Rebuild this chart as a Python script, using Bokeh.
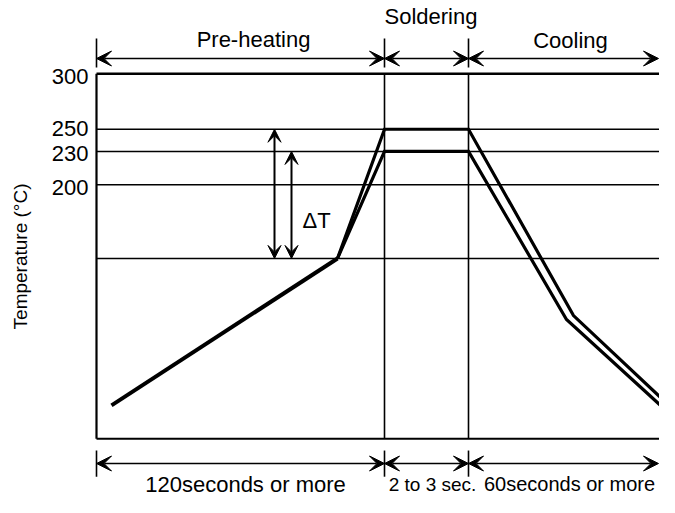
from bokeh.plotting import figure
from bokeh.models import Range1d, Arrow, VeeHead, ColumnDataSource
from bokeh.core.properties import value
from bokeh.embed import file_html
from bokeh.resources import INLINE

# ---------------- data (schematic reflow profile) ----------------
# time is in arbitrary schematic units, temperature in °C
temp_ticks = [300, 250, 230, 200]
tick_labels = ["300", "250", "230", "200"]
preheat_temp = 133.5          # unlabeled pre-heating level
floor_temp = -29              # bottom of the diagram box

preheat_t = [7.5, 120.5]
preheat_T = [1, 133.5]
upper_t = [120.5, 144, 186, 238.5, 289]
upper_T = [133.5, 250, 250, 82, -3.6]
lower_t = [120.5, 144, 186, 235, 287]
lower_T = [133.5, 230, 230, 78.5, -7.2]

stage_bounds = [0, 144, 186, 281]
stage_names = ["Pre-heating", "Soldering", "Cooling"]
duration_labels = ["120seconds or more", "2 to 3 sec.", "60seconds or more"]
delta_label = "ΔT"
y_title = "Temperature (°C)"

# ---------------- layout ----------------
FONT = value("Liberation Sans")
x_right = 300
top_arrow_T, top_tick = 313.8, (305.7, 331.8)
bot_arrow_T, bot_tick = -51.4, (-39.7, -63.3)
stage_label_t = [78.5, 167.25, 237]
stage_label_T = [330.5, 351.7, 329.8]
dur_label_t = [74.5, 168, 236.5]
dur_label_T = [-70.6, -70.3, -70.3]
dur_label_size = ["22px", "19px", "20px"]
dT_arrow_t = [89, 97.5]

p = figure(width=659, height=497, output_backend="svg", toolbar_location=None,
           x_range=Range1d(-48, 281.5), y_range=Range1d(-82.05, 366.10),
           x_axis_type=None, y_axis_type=None, min_border=0,
           outline_line_color=None, background_fill_color="white")

# horizontal level lines
for T in temp_ticks[1:] + [preheat_temp]:
    p.line([stage_bounds[0], x_right], [T, T], line_color="black", line_width=1.6)
# box: top, bottom, left
p.line([stage_bounds[0], x_right], [temp_ticks[0]] * 2, line_color="black", line_width=2.6)
p.line([stage_bounds[0], x_right], [floor_temp] * 2, line_color="black", line_width=2)
p.line([stage_bounds[0]] * 2, [floor_temp, temp_ticks[0]], line_color="black", line_width=2.2)
# soldering window verticals
for t in stage_bounds[1:3]:
    p.line([t, t], [floor_temp, temp_ticks[0]], line_color="black", line_width=1.6)

# profile
p.line(preheat_t, preheat_T, line_color="black", line_width=4, line_join="miter")
p.line(upper_t, upper_T, line_color="black", line_width=3.2, line_join="miter")
p.line(lower_t, lower_T, line_color="black", line_width=3.2, line_join="miter")

# y tick labels
p.text(x=[stage_bounds[0]] * 4, y=temp_ticks, text=tick_labels, x_offset=-8,
       y_offset=[3, -1, 2, 3], text_align="right", text_baseline="middle",
       text_font=FONT, text_font_size="22px", text_color="black")

# y title
p.text(x=[-38], y=[135.3], text=[y_title], angle=1.5708, text_align="center",
       text_baseline="middle", text_font=FONT, text_font_size="19px", text_color="black")

# stage arrows (top) and duration arrows (bottom)
def arrows(yv):
    src = ColumnDataSource(dict(x0=stage_bounds[:-1], x1=stage_bounds[1:],
                                y0=[yv] * 3, y1=[yv] * 3))
    p.add_layout(Arrow(x_start="x0", y_start="y0", x_end="x1", y_end="y1", source=src,
                       line_width=1.6, line_color="black",
                       start=VeeHead(size=15, fill_color="black", line_color="black"),
                       end=VeeHead(size=15, fill_color="black", line_color="black")))

arrows(top_arrow_T)
arrows(bot_arrow_T)
for t in stage_bounds[:3]:
    p.line([t, t], list(top_tick), line_color="black", line_width=1.6)
    p.line([t, t], list(bot_tick), line_color="black", line_width=1.6)

p.text(x=stage_label_t, y=stage_label_T, text=stage_names, text_align="center",
       text_baseline="middle", text_font=FONT, text_font_size="22px", text_color="black")
p.text(x=dur_label_t, y=dur_label_T, text=duration_labels, text_align="center",
       text_baseline="middle", text_font=FONT, text_font_size=dur_label_size,
       text_color="black")

# delta T arrows
src = ColumnDataSource(dict(x0=dT_arrow_t, x1=dT_arrow_t,
                            y0=[preheat_temp] * 2, y1=temp_ticks[1:3]))
p.add_layout(Arrow(x_start="x0", y_start="y0", x_end="x1", y_end="y1", source=src,
                   line_width=2, line_color="black",
                   start=VeeHead(size=13, fill_color="black", line_color="black"),
                   end=VeeHead(size=13, fill_color="black", line_color="black")))
p.text(x=[103], y=[167.7], text=[delta_label], text_align="left", text_baseline="middle",
       text_font=FONT, text_font_size="22px", text_color="black")

open("out.html", "w").write(file_html(p, INLINE))
